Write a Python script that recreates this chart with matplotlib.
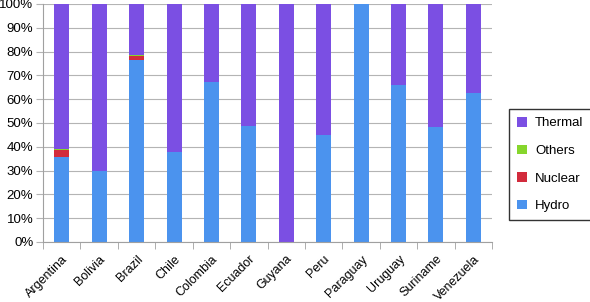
import numpy as np
import matplotlib.pyplot as plt
from matplotlib.ticker import PercentFormatter

plt.rcParams['font.family'] = ['Liberation Sans', 'DejaVu Sans']

countries = ["Argentina", "Bolivia", "Brazil", "Chile", "Colombia", "Ecuador",
             "Guyana", "Peru", "Paraguay", "Uruguay", "Suriname", "Venezuela"]
hydro = [35.5, 30.0, 76.3, 37.7, 67.0, 48.5, 0.0, 44.8, 100.0, 66.0, 48.3, 62.6]
nuclear = [3.2, 0.0, 1.7, 0.0, 0.0, 0.0, 0.0, 0.0, 0.0, 0.0, 0.0, 0.0]
others = [0.5, 0.0, 0.5, 0.0, 0.0, 0.0, 0.0, 0.0, 0.0, 0.0, 0.0, 0.0]
thermal = [100 - h - n - o for h, n, o in zip(hydro, nuclear, others)]

c_hydro = "#4b93ee"
c_nuc = "#d22b3c"
c_oth = "#86d62c"
c_the = "#7b4fe3"

fig = plt.figure(figsize=(5.9, 3.02), dpi=100)
ax = fig.add_axes([0.073, 0.199, 0.761, 0.788])

x = np.arange(len(countries))
w = 0.4
hydro = np.array(hydro)
nuclear = np.array(nuclear)
others = np.array(others)
thermal = np.array(thermal)
b1 = ax.bar(x, hydro, w, color=c_hydro, label="Hydro", zorder=2)
b2 = ax.bar(x, nuclear, w, bottom=hydro, color=c_nuc, label="Nuclear", zorder=2)
b3 = ax.bar(x, others, w, bottom=hydro + nuclear, color=c_oth, label="Others", zorder=2)
b4 = ax.bar(x, thermal, w, bottom=hydro + nuclear + others, color=c_the, label="Thermal", zorder=2)

ax.set_xlim(-0.5, len(countries) - 0.5)
ax.set_ylim(0, 100)
ax.set_yticks(np.arange(0, 101, 10))
ax.yaxis.set_major_formatter(PercentFormatter(decimals=0))
ax.yaxis.grid(True, color="#b4b4b4", lw=0.8, zorder=0)
ax.tick_params(axis="y", length=5, color="#b4b4b4", labelsize=9.5, pad=2)

ax.set_xticks(x)
ax.set_xticklabels(countries, rotation=45, ha="right", rotation_mode="anchor", fontsize=9)
ax.set_xticks(np.arange(-0.5, len(countries)), minor=True)
ax.tick_params(axis="x", which="major", length=0, pad=8)
ax.tick_params(axis="x", which="minor", length=5, color="#a0a0a0")

for s in ["top", "right"]:
    ax.spines[s].set_visible(False)
ax.spines["left"].set_color("#a0a0a0")
ax.spines["bottom"].set_color("#a0a0a0")

leg = fig.legend(handles=[b4, b3, b2, b1], labels=["Thermal", "Others", "Nuclear", "Hydro"],
                 loc="center", bbox_to_anchor=(0.933, 0.455), fontsize=9.5,
                 handlelength=0.75, handleheight=0.75, handletextpad=0.6,
                 labelspacing=1.15, frameon=True, fancybox=False,
                 edgecolor="black", borderpad=0.6)
leg.get_frame().set_linewidth(1.0)

fig.savefig("out.png", dpi=100)
